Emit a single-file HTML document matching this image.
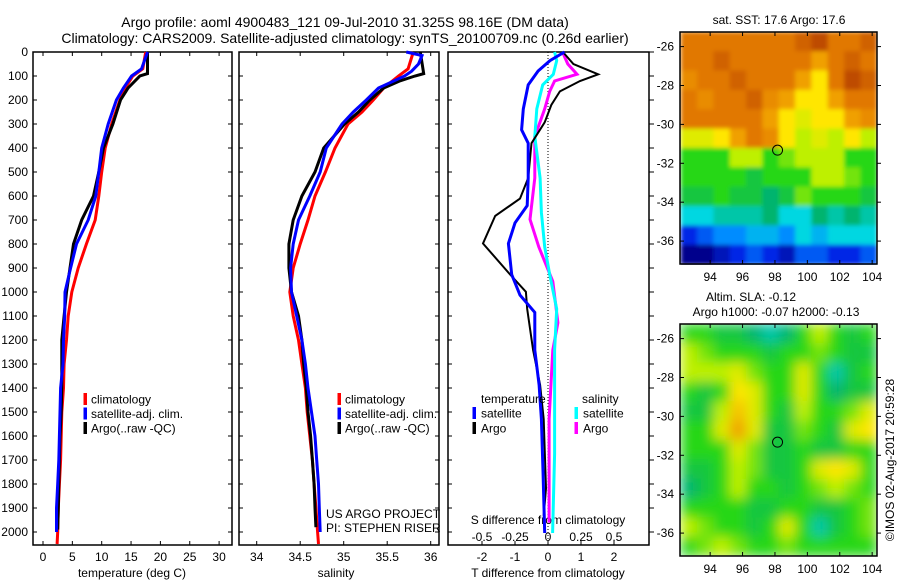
<!DOCTYPE html>
<html><head><meta charset="utf-8"><title>Argo profile</title>
<style>
html,body{margin:0;padding:0;background:#fff;}
svg{display:block;font-family:"Liberation Sans",sans-serif;font-size:12px;}
</style></head>
<body>
<svg id="chart" width="900" height="580" viewBox="0 0 900 580" xmlns="http://www.w3.org/2000/svg">
<defs>
<filter id="blurTop" x="0" y="0" width="100%" height="100%"><feGaussianBlur stdDeviation="2" edgeMode="duplicate"/></filter>
<filter id="blurBot" x="0" y="0" width="100%" height="100%"><feGaussianBlur stdDeviation="6" edgeMode="duplicate"/></filter>
<clipPath id="clipTop"><rect x="680" y="32" width="197" height="233"/></clipPath>
<clipPath id="clipBot"><rect x="680" y="324" width="197" height="232"/></clipPath>
</defs>
<text x="345" y="27" text-anchor="middle" style="font-size:14px">Argo profile: aoml 4900483_121 09-Jul-2010 31.325S 98.16E (DM data)</text>
<text x="345" y="43" text-anchor="middle" style="font-size:14px">Climatology: CARS2009. Satellite-adjusted climatology: synTS_20100709.nc (0.26d earlier)</text>
</svg>
<script>
// ---------- DATA ----------
const tDepths = [0,70,100,150,200,300,400,500,600,700,800,900,1000,1100,1200,1300,1400,1500,1600,1700,1800,1900,2000,2050];
const tempClim = [17.5,17.0,15.3,14.0,13.1,11.7,10.6,10.0,9.5,8.9,7.4,6.0,4.9,4.3,4.0,3.6,3.5,3.2,3.1,3.0,2.8,2.6,2.5,2.4];
const tempSatDepths = [0,70,100,150,200,300,400,500,600,700,800,900,1000,1100,1200,1300,1400,1500,1600,1700,1800,1900,2000];
const tempSat = [17.8,16.8,15.1,13.7,12.5,11.1,10.0,9.5,9.0,7.7,5.7,4.7,3.75,3.7,3.5,3.4,3.0,2.9,2.8,2.7,2.5,2.3,2.3];
const tempArgoDepths = [0,90,100,150,200,300,400,500,600,700,800,900,1000,1100,1200,1300,1400,1500,1600,1700,1800,1900,1990];
const tempArgo = [17.8,17.8,16.5,14.5,13.2,11.9,10.3,9.5,8.6,6.6,5.2,4.6,4.0,3.6,3.2,3.2,3.2,3.1,2.9,2.8,2.7,2.6,2.5];

const salClimDepths = [0,70,100,150,200,250,300,400,500,600,700,800,900,1000,1100,1200,1300,1400,1500,1600,1700,1800,1900,2000,2050];
const salClim = [35.80,35.74,35.63,35.46,35.34,35.21,35.05,34.90,34.79,34.67,34.59,34.50,34.42,34.38,34.42,34.48,34.52,34.56,34.58,34.61,34.64,34.66,34.68,34.70,34.71];
const salSatDepths = [0,15,50,80,100,150,200,250,300,400,500,600,700,800,900,1000,1100,1200,1300,1400,1500,1600,1700,1800,1900,2000];
const salSat = [35.72,35.90,35.86,35.78,35.70,35.40,35.26,35.11,34.98,34.80,34.73,34.61,34.48,34.42,34.39,34.40,34.46,34.52,34.56,34.59,34.63,34.67,34.69,34.71,34.72,34.73];
const salArgoDepths = [0,90,100,120,150,200,250,300,400,500,600,700,800,900,1000,1100,1200,1300,1400,1500,1600,1700,1800,1900,1980];
const salArgo = [35.88,35.92,35.82,35.65,35.46,35.30,35.17,35.01,34.77,34.67,34.52,34.42,34.37,34.37,34.40,34.48,34.52,34.54,34.57,34.59,34.62,34.64,34.66,34.67,34.68];

const dTSatDepths = [0,36,79,137,237,324,380,525,640,712,798,927,1013,1085,1242,1387,1530,1746,2004];
const dTSat = [0.5,0.06,-0.3,-0.6,-0.75,-0.8,-0.6,-0.6,-0.63,-1.0,-1.2,-1.1,-0.85,-0.4,-0.4,-0.27,-0.2,-0.15,-0.1];
const dTArgoDepths = [0,50,93,121,164,221,293,380,525,611,683,798,927,999,1071,1242,1387,1530,1818,1932];
const dTArgo = [0.45,0.77,1.52,0.97,0.36,0.1,-0.1,-0.5,-0.6,-0.85,-1.6,-1.97,-1.15,-0.67,-0.63,-0.45,-0.24,-0.13,-0.06,-0.13];
const dSSatDepths = [0,36,93,137,237,353,525,669,812,927,1071,1242,1387,1674,2004];
const dSSat = [0.05,0.066,0.04,-0.04,-0.085,-0.1,-0.06,-0.05,-0.025,0.013,0.066,0.05,0.05,0.05,0.035];
const dSArgoDepths = [0,50,93,121,164,237,353,525,697,812,956,1128,1242,1530,1961];
const dSArgo = [0.11,0.15,0.22,0.05,0.013,-0.025,-0.1,-0.1,-0.136,-0.07,0.036,0.075,0.036,0.008,0.008];

const depthTicks = [0,100,200,300,400,500,600,700,800,900,1000,1100,1200,1300,1400,1500,1600,1700,1800,1900,2000];
const tempTicks = [0,5,10,15,20,25,30];
const salTicks = [34,34.5,35,35.5,36];
const salTickLabels = ["34","34.5","35","35.5","36"];
const dTTicks = [-2,-1,0,1,2];
const dSTicks = [-0.5,-0.25,0,0.25,0.5];
const dSTickLabels = ["-0.5","-0.25","0","0.25","0.5"];
const lonTicks = [94,96,98,100,102,104];
const latTicks = [-26,-28,-30,-32,-34,-36];
const argoLon = 98.16;
const argoLat = -31.325;

// map grids: 12 cols (92.2..104.3 E), 12 rows (-25.25..-37.2)
const sstGrid = [
[9,9,9,9,9,9,9,9.5,10,9,9,9.5],
[9,9,9.5,9,9,9,9,9,8,9,9.5,9],
[8.5,9,9,9.5,9,9,9,8,7,9,10,9.5],
[9,8.5,9,9,9.5,8.5,8,7,7,8,9,9],
[9,9,9,9,9,8,7,6.5,7,7,8,8.5],
[6.5,6.5,7,8,9,8.5,7,6,6.5,6,7,6],
[5,5,5,6,6,5,5.5,6,6,6,5,5],
[5,5,5,5,4.5,5,5,5,6,6,5.5,5],
[4.5,4.5,5,4.5,4.5,4,4.5,5.5,5,5,5,4.5],
[3,3,3.5,3.5,3.5,4,3,3,4,3.5,4,3.5],
[1,1.5,2,2,2.5,2.5,2,3,2.5,3,3,3],
[0,0,0.5,1,1.5,1,0.5,1.5,1.5,1,1,1.5]];
const slaGrid = [
[5,5,4.5,4.5,4,3.5,4,5,6,5,4.5,5],
[6,5.5,5,5,5,4.5,5,5,5.5,5,4.5,4.5],
[6,6,6,6.5,5.5,5,5,6.5,5,3.5,4.5,5],
[5,4.5,5,7,6.5,5,5,6.5,5,4,4.5,4.5],
[4.5,4.5,6,7.5,6.5,5,4.5,6,5,5,5.5,6.5],
[5,5,6.5,8,6.5,4.5,4.5,5.5,5,4.5,6.5,7],
[5,5,5,6.5,5.5,4.5,4.5,5,4.5,4.5,5,5],
[4.5,4.5,5,6,5.5,4.5,4.5,5,6.5,7,6.5,5],
[4,4.5,5,6,5,5,4.5,5,5.5,6,5.5,5],
[5,5,5,5,4.5,4.5,5,5,4.5,4.5,5,5.5],
[6,5.5,5,5,4.5,5,6.5,5,3.5,4.5,5,5.5],
[5,5.5,6,5.5,5,5,5.5,5,5,5,5,5]];

// ---------- SCALES ----------
const depthY = d => 52 + 0.24*d;
const tempX = t => 43 + 5.87*t;
const salX = s => 256.7 + 87*(s-34);
const dTX = v => 548 + 33*v;
const dSX = v => 548 + 132*v;
const lonX = lon => 681 + (lon-92.2)*16.2;
const latTopY = lat => 32 + (-25.25-lat)*19.45;
const latBotY = lat => 324 + (-25.25-lat)*19.45;
const palette = [[0,0,140],[0,40,230],[0,140,255],[0,215,225],[0,180,110],[40,215,20],[190,240,0],[255,230,0],[240,160,0],[225,120,0],[190,75,0]];
function colorFor(v){
  const i = Math.max(0, Math.min(9.999, v)); const a = Math.floor(i), f = i-a;
  const c = palette[a].map((x,k)=>Math.round(x+(palette[a+1][k]-x)*f));
  return 'rgb('+c.join(',')+')';
}

const svg = document.getElementById('chart');
const NS = 'http://www.w3.org/2000/svg';
function mk(tag, attrs, parent){
  const el = document.createElementNS(NS, tag);
  for (const k in attrs) el.setAttribute(k, attrs[k]);
  (parent||svg).appendChild(el); return el;
}
function txt(x,y,s,anchor,parent){
  const t = mk('text',{x:x,y:y,'text-anchor':anchor||'start'},parent); t.textContent = s; return t;
}
function pathOf(xs, ds, xf){
  return xs.map((v,i)=>(i?'L':'M')+xf(v).toFixed(1)+','+depthY(ds[i]).toFixed(1)).join(' ');
}

// ---------- PROFILE PANELS ----------
const panels = [{x0:33,x1:232,name:'temperature-panel'},{x0:239,x1:439,name:'salinity-panel'},{x0:448,x1:649,name:'difference-panel'}];
panels.forEach(p=>{
  const g = mk('g',{});
  
  
  p.g = g;
  const r = mk('rect',{x:p.x0,y:52,width:p.x1-p.x0,height:493,fill:'none',stroke:'#000','stroke-width':1.5},g);
  
  
  depthTicks.forEach(d=>{
    mk('line',{x1:p.x0,x2:p.x0+4,y1:depthY(d),y2:depthY(d),stroke:'#000'},g);
    if (p.name==='difference-panel') mk('line',{x1:p.x1,x2:p.x1+5,y1:depthY(d),y2:depthY(d),stroke:'#000'},g);
    else mk('line',{x1:p.x1,x2:p.x1-4,y1:depthY(d),y2:depthY(d),stroke:'#000'},g);
  });
});
const depthAxis = mk('g',{});


depthTicks.forEach(d=>{ txt(28, depthY(d)+4, String(d), 'end', depthAxis); });

const g1 = panels[0].g;
tempTicks.forEach(t=>{
  mk('line',{x1:tempX(t),x2:tempX(t),y1:545,y2:541,stroke:'#000'},g1);
  mk('line',{x1:tempX(t),x2:tempX(t),y1:52,y2:56,stroke:'#000'},g1);
  txt(tempX(t), 561, String(t), 'middle', g1);
});
const xt1 = txt(132, 577, 'temperature (deg C)', 'middle', g1);



function drawLine(g, xs, ds, xf, color, w, name){
  const p = mk('path',{d:pathOf(xs,ds,xf),fill:'none',stroke:color,'stroke-width':w,'stroke-linejoin':'miter'},g);
  
  
}
drawLine(g1, tempClim, tDepths, tempX, '#ff0000', 3, 'temperature-climatology-line');
drawLine(g1, tempArgo, tempArgoDepths, tempX, '#000000', 3, 'temperature-argo-line');
drawLine(g1, tempSat, tempSatDepths, tempX, '#0000ff', 3, 'temperature-satellite-line');

function legend(g, x, items, prefix){
  items.forEach((it,i)=>{
    const y = 399 + 14.5*i;
    const lg = mk('g',{},g);
    
    
    mk('rect',{x:x-1.5,y:y-6,width:3.5,height:12,fill:it[0]},lg);
    txt(x+6, y+4.5, it[1], 'start', lg);
  });
}
legend(g1, 85, [['#ff0000','climatology','climatology'],['#0000ff','satellite-adj. clim.','satellite'],['#000','Argo(..raw -QC)','argo']], 'temperature');

const g2 = panels[1].g;
salTicks.forEach((s,i)=>{
  mk('line',{x1:salX(s),x2:salX(s),y1:545,y2:541,stroke:'#000'},g2);
  mk('line',{x1:salX(s),x2:salX(s),y1:52,y2:56,stroke:'#000'},g2);
  txt(salX(s), 561, salTickLabels[i], 'middle', g2);
});
const xt2 = txt(336, 577, 'salinity', 'middle', g2);


drawLine(g2, salClim, salClimDepths, salX, '#ff0000', 3, 'salinity-climatology-line');
drawLine(g2, salArgo, salArgoDepths, salX, '#000000', 3, 'salinity-argo-line');
drawLine(g2, salSat, salSatDepths, salX, '#0000ff', 3, 'salinity-satellite-line');
legend(g2, 339, [['#ff0000','climatology','climatology'],['#0000ff','satellite-adj. clim.','satellite'],['#000','Argo(..raw -QC)','argo']], 'salinity');
const credit = mk('g',{},g2);


txt(326, 518, 'US ARGO PROJECT', 'start', credit);
txt(326, 532, 'PI: STEPHEN RISER', 'start', credit);

const g3 = panels[2].g;
mk('line',{x1:dTX(0),x2:dTX(0),y1:52,y2:545,stroke:'#000','stroke-dasharray':'1,2','stroke-width':1},g3);
dTTicks.forEach(t=>{
  mk('line',{x1:dTX(t),x2:dTX(t),y1:545,y2:541,stroke:'#000'},g3);
  txt(dTX(t), 561, String(t), 'middle', g3);
});
dSTicks.forEach((s,i)=>{ txt(dSX(s), 541, dSTickLabels[i], 'middle', g3); });
const st = txt(548, 524, 'S difference from climatology', 'middle', g3);


const tt = txt(548, 577, 'T difference from climatology', 'middle', g3);


drawLine(g3, dSArgo, dSArgoDepths, dSX, '#ff00ff', 3, 'salinity-diff-argo-line');
drawLine(g3, dSSat, dSSatDepths, dSX, '#00ffff', 3, 'salinity-diff-satellite-line');
drawLine(g3, dTArgo, dTArgoDepths, dTX, '#000000', 2, 'temperature-diff-argo-line');
drawLine(g3, dTSat, dTSatDepths, dTX, '#0000ff', 3, 'temperature-diff-satellite-line');
txt(481, 403, 'temperature', 'start', g3);
txt(582, 403, 'salinity', 'start', g3);
function legend2(x, y, color, label, name){
  const lg = mk('g',{},g3);
  
  
  mk('rect',{x:x-1.5,y:y-6,width:3.5,height:12,fill:color},lg);
  txt(x+7, y+4.5, label, 'start', lg);
}
legend2(474, 413, '#0000ff', 'satellite', 'diff-legend-temp-satellite');
legend2(474, 428, '#000', 'Argo', 'diff-legend-temp-argo');
legend2(576, 413, '#00ffff', 'satellite', 'diff-legend-sal-satellite');
legend2(576, 428, '#ff00ff', 'Argo', 'diff-legend-sal-argo');

// ---------- MAPS ----------
function drawMap(grid, yf, top, clip, blur, name){
  const g = mk('g',{});
  
  
  const inner = mk('g',{'clip-path':'url(#'+clip+')'},g);
  const cells = mk('g',{filter:'url(#'+blur+')'},inner);
  const nr = grid.length, nc = grid[0].length;
  const dLat = (37.2-25.25)/nr, dLon = (104.3-92.2)/nc;
  grid.forEach((row,r)=>row.forEach((v,c)=>{
    const x = lonX(92.2+c*dLon), y = yf(-25.25-r*dLat);
    const cell = mk('rect',{x:x-0.3,y:y-0.3,width:lonX(92.2+(c+1)*dLon)-x+0.6,height:yf(-25.25-(r+1)*dLat)-y+0.6,fill:colorFor(v)},cells);
    
    
  }));
  mk('rect',{x:680,y:top,width:197,height:232,fill:'none',stroke:'#000','stroke-width':1.5},g);
  latTicks.forEach(l=>{
    mk('line',{x1:680,x2:684,y1:yf(l),y2:yf(l),stroke:'#000'},g);
    mk('line',{x1:877,x2:881,y1:yf(l),y2:yf(l),stroke:'#000'},g);
    txt(674, yf(l)+4, String(l), 'end', g);
  });
  lonTicks.forEach(l=>{
    mk('line',{x1:lonX(l),x2:lonX(l),y1:top+232,y2:top+228,stroke:'#000'},g);
    mk('line',{x1:lonX(l),x2:lonX(l),y1:top,y2:top+4,stroke:'#000'},g);
    txt(lonX(l), top+232+17, String(l), 'middle', g);
  });
  const m = mk('circle',{cx:lonX(argoLon),cy:yf(argoLat),r:5,fill:'none',stroke:'#000','stroke-width':1},g);
  
  
}
drawMap(sstGrid, latTopY, 32, 'clipTop', 'blurTop', 'sst-map');
drawMap(slaGrid, latBotY, 324, 'clipBot', 'blurBot', 'sla-map');
const t1 = txt(779, 24, 'sat. SST: 17.6 Argo: 17.6', 'middle');


const t2 = txt(751, 301, 'Altim. SLA: -0.12', 'middle');


const t3 = txt(776, 316, 'Argo h1000: -0.07 h2000: -0.13', 'middle');


const stamp = txt(0, 0, '©IMOS 02-Aug-2017 20:59:28', 'middle');
stamp.setAttribute('transform', 'translate(894,460) rotate(-90)');


</script>
</body></html>
